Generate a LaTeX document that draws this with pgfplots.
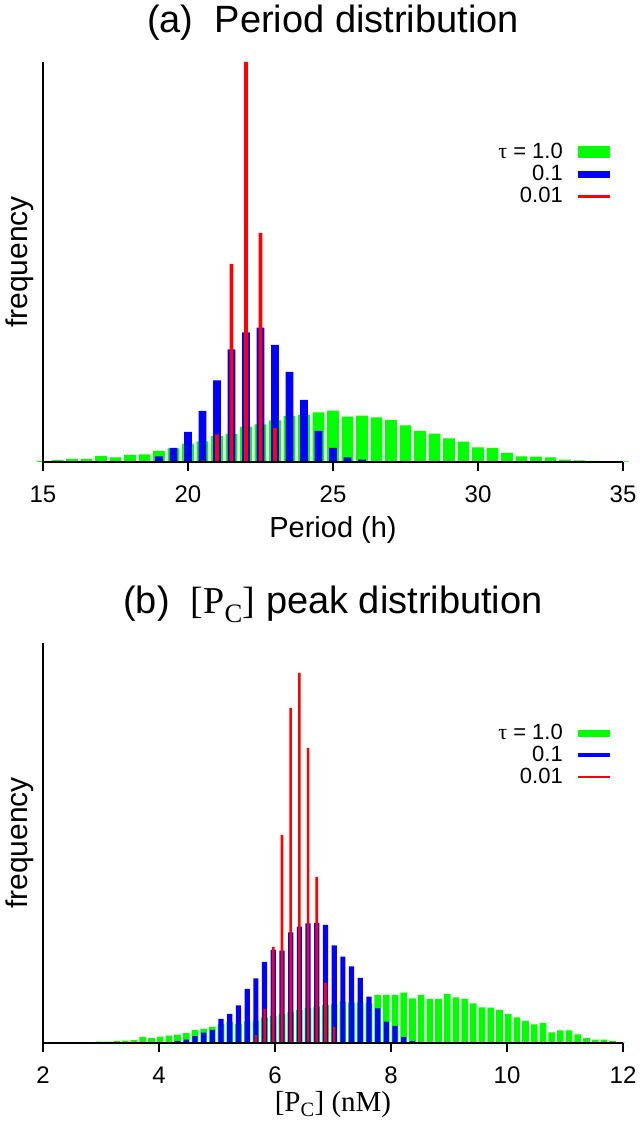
\documentclass[border=0pt]{standalone}
\usepackage{pgfplots}
\pgfplotsset{compat=1.18}
\usepackage{fontspec}
\setmainfont{Liberation Sans}
\newfontfamily\tms{Liberation Serif}
\definecolor{hgreen}{RGB}{0,255,0}
\definecolor{hblue}{RGB}{0,0,255}
\definecolor{hred}{RGB}{255,0,0}

\pgfplotstableread{
x h
15.0 1
15.5 2
16.0 3
16.5 3
17.0 6
17.5 4.5
18.0 7
18.5 7.5
19.0 11
19.5 13.5
20.0 18.3
20.5 20.7
21.0 26
21.5 28
22.0 35
22.5 37.7
23.0 41.7
23.5 46
24.0 47
24.5 49.7
25.0 51.3
25.5 45.3
26.0 46.3
26.5 44.7
27.0 42
27.5 36.7
28.0 31
28.5 28.3
29.0 23.7
29.5 20.3
30.0 14.7
30.5 14
31.0 9
31.5 5.7
32.0 5.3
32.5 4.7
33.0 2.3
33.5 1.7
34.0 1
34.5 0.7
35.0 0.5
}\pergreen
\pgfplotstableread{
x h
19.0 5.7
19.5 14
20.0 30
20.5 51
21.0 81.7
21.5 112.7
22.0 129.7
22.5 134.3
23.0 117
23.5 90
24.0 62
24.5 31
25.0 14
25.5 4.7
26.0 2.3
}\perblue
\pgfplotstableread{
x h
20.5 1.5
21.0 27.7
21.5 198
22.0 400
22.5 229
23.0 34
}\perred

\pgfplotstableread{
x h
2.97 1.5
3.12 1.5
3.27 2
3.42 2.5
3.57 3
3.72 6
3.87 5
4.02 6.5
4.17 7.5
4.32 8.5
4.47 10
4.62 13
4.77 14
4.92 16
5.07 19
5.22 21
5.37 19
5.52 21.5
5.67 22
5.82 25.7
5.97 27
6.12 29
6.27 31
6.42 33
6.57 35
6.72 36.3
6.87 38
7.02 38.7
7.17 41.3
7.32 40.3
7.47 40.5
7.62 39.7
7.77 48
7.92 48
8.07 48
8.22 50.3
8.37 44.7
8.52 48
8.67 44
8.82 44
8.97 49
9.12 45.7
9.27 44
9.42 39.7
9.57 35.7
9.72 35.3
9.87 33
10.02 29
10.17 25.7
10.32 22
10.47 18.7
10.62 20
10.77 10.7
10.92 12.7
11.07 12.7
11.22 8.7
11.37 5
11.52 3.3
11.67 3.3
11.82 2
11.97 0.7
}\pcgreen
\pgfplotstableread{
x h
4.17 0.8
4.32 2
4.47 3.5
4.62 7
4.77 10.5
4.92 13
5.07 24
5.22 29
5.37 37.7
5.52 54
5.67 64.5
5.82 81
5.97 93
6.12 92.3
6.27 110.7
6.42 116.3
6.57 119.7
6.72 120
6.87 118
7.02 97.5
7.17 86.3
7.32 76.7
7.47 65
7.62 46.3
7.77 34.7
7.92 21.3
8.07 17
8.22 6
8.37 2
}\pcblue
\pgfplotstableread{
x h
5.67 8
5.82 34
5.97 96
6.12 208
6.27 335
6.42 370
6.57 295
6.72 166
6.87 60
7.02 16
}\pcred

\pgfplotsset{
  histo/.style={
    scale only axis, width=580bp, height=400bp,
    anchor=south west,
    axis x line=bottom, axis y line=left,
    axis line style={-, line width=2.5bp, black},
    axis on top,
    ymin=0, ymax=400, ytick=\empty,
    tick align=outside, major tick length=9bp,
    every tick/.style={line width=2.5bp, black},
    /pgf/number format/assume math mode=true,
    xticklabel style={font=\fontsize{24bp}{26bp}\selectfont, yshift=-11bp},
    title style={at={(axis description cs:0.5,1.0825)}, anchor=center,
      font=\fontsize{38bp}{40bp}\selectfont},
    xlabel style={at={(axis description cs:0.5,-0.17)}, anchor=center,
      font=\fontsize{29bp}{31bp}\selectfont},
    ylabel style={at={(axis description cs:-0.04,0.5)}, anchor=center,
      font=\fontsize{30bp}{32bp}\selectfont},
    ylabel={frequency},
    legend style={draw=none, fill=none, at={(axis description cs:0.9776,0.8025)},
      anchor=north east, font=\fontsize{22bp}{24bp}\selectfont,
      row sep=0pt, column sep=14bp, inner sep=0pt,
      nodes={inner sep=1bp, text height=16bp, text depth=4bp}},
    legend plot pos=right, legend cell align=right,
  },
}

\begin{document}
\begin{tikzpicture}
\useasboundingbox (0,0) rectangle (640bp,1123bp);

\begin{axis}[histo, at={(43bp,661bp)}, xmin=15, xmax=35,
  xtick={15,20,25,30,35}, clip=false,
  title={(a)\ \ Period distribution}, xlabel={Period (h)}]
\addplot[ybar, bar width=0.4, bar shift=0pt, fill=hgreen, draw=none,
  legend image code/.code={\fill[hgreen] (0bp,-6bp) rectangle (32bp,6bp);}]
  table[x=x,y=h] {\pergreen};
\addlegendentry{{\tms τ} = 1.0}
\addplot[ybar, bar width=0.265, bar shift=0pt, fill=hblue, draw=none,
  legend image code/.code={\fill[hblue] (0bp,-3.5bp) rectangle (32bp,3.5bp);}]
  table[x=x,y=h] {\perblue};
\addlegendentry{0.1}
\addplot[ybar, bar width=0.125, bar shift=0pt, fill=hred, draw=none,
  legend image code/.code={\fill[hred] (0bp,-1.5bp) rectangle (32bp,1.5bp);}]
  table[x=x,y=h] {\perred};
\addlegendentry{0.01}
\end{axis}

\begin{axis}[histo, at={(43bp,80bp)}, xmin=2, xmax=12,
  xtick={2,4,6,8,10,12}, clip=false,
  title={(b)\ \ {\tms [P\textsubscript{C}]} peak distribution},
  xlabel={\tms [P\textsubscript{C}] (nM)},
  xlabel style={at={(axis description cs:0.5,-0.155)}, font=\fontsize{29bp}{31bp}\selectfont}]
\addplot[ybar, bar width=0.115, bar shift=0pt, fill=hgreen, draw=none,
  legend image code/.code={\fill[hgreen] (0bp,-3.5bp) rectangle (32bp,3.5bp);}]
  table[x=x,y=h] {\pcgreen};
\addlegendentry{{\tms τ} = 1.0}
\addplot[ybar, bar width=0.09, bar shift=0pt, fill=hblue, draw=none,
  legend image code/.code={\fill[hblue] (0bp,-2bp) rectangle (32bp,2bp);}]
  table[x=x,y=h] {\pcblue};
\addlegendentry{0.1}
\addplot[ybar, bar width=0.045, bar shift=0pt, fill=hred, draw=none,
  legend image code/.code={\fill[hred] (0bp,-1.2bp) rectangle (32bp,1.2bp);}]
  table[x=x,y=h] {\pcred};
\addlegendentry{0.01}
\end{axis}
\end{tikzpicture}
\end{document}
